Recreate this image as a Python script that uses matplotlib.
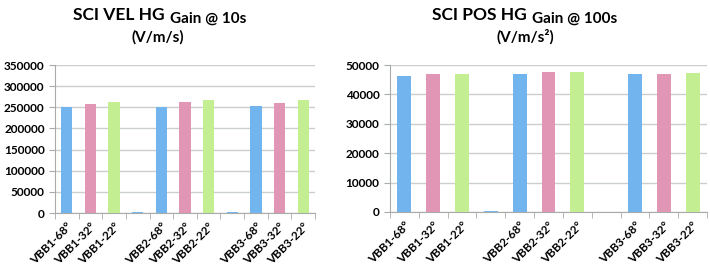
import matplotlib.pyplot as plt

plt.rcParams["font.family"] = ["Lato", "DejaVu Sans"]

labels = ["VBB1-68°", "VBB1-32°", "VBB1-22°", "",
          "VBB2-68°", "VBB2-32°", "VBB2-22°", "",
          "VBB3-68°", "VBB3-32°", "VBB3-22°"]
vel_gain = [251000, 257000, 262000, 3000,
            251000, 262000, 268000, 3000,
            253000, 259000, 268000]
pos_gain = [46200, 46800, 46800, 300,
            47000, 47500, 47500, 0,
            47000, 47000, 47200]
bar_colors = ["#72b4ee", "#e296b6", "#c3ef92", "#72b4ee",
              "#72b4ee", "#e296b6", "#c3ef92", "#72b4ee",
              "#72b4ee", "#e296b6", "#c3ef92"]

GRID = "#c9cfc9"
AXIS = "#a8aca8"


# draw one excel-style bar panel.
def draw_panel(ax, values, ymax, step):
    x = list(range(len(values)))
    ax.bar(x, values, width=0.48, color=bar_colors, zorder=3)
    ax.set_xlim(-0.5, len(values) - 0.5)
    ax.set_ylim(0, ymax)
    ax.set_yticks(range(0, ymax + 1, step))
    ax.yaxis.grid(True, color=GRID, linewidth=1.0, zorder=0)
    ax.set_xticks(x)
    ax.set_xticklabels(labels, rotation=45, ha="right", rotation_mode="anchor",
                       fontsize=8.5, fontweight="bold")
    ax.set_xticks([i - 0.5 for i in range(len(values) + 1)], minor=True)
    ax.tick_params(axis="x", which="major", length=0, pad=6)
    ax.tick_params(axis="x", which="minor", length=4, color=AXIS, direction="out")
    ax.tick_params(axis="y", length=4, color=AXIS, labelsize=8.5)
    for lab in ax.get_yticklabels():
        lab.set_fontweight("bold")
    for side in ["top", "right"]:
        ax.spines[side].set_visible(False)
    for side in ["left", "bottom"]:
        ax.spines[side].set_color(AXIS)


# two-size title line plus a units line underneath.
def draw_title(fig, ax, x_start, x_units, big, small, units):
    head = fig.text(x_start / 710, 1 - 20 / 268, big, fontsize=12.5,
                    fontweight="bold", va="baseline", ha="left")
    ax.annotate(small, xy=(1, 0), xycoords=head, xytext=(4, 0),
                textcoords="offset points", fontsize=11, fontweight="bold",
                va="baseline", ha="left", annotation_clip=False)
    fig.text(x_units / 710, 1 - 37 / 268, units, fontsize=11, fontweight="bold",
             va="center", ha="center")


fig = plt.figure(figsize=(7.1, 2.68), dpi=100)
ax1 = fig.add_axes([55 / 710, 55 / 268, 260 / 710, 148 / 268])
ax2 = fig.add_axes([390 / 710, 56 / 268, 317 / 710, 147 / 268])

draw_panel(ax1, vel_gain, 350000, 50000)
draw_panel(ax2, pos_gain, 50000, 10000)

draw_title(fig, ax1, 73, 158, "SCI VEL HG", "Gain @ 10s", "(V/m/s)")
draw_title(fig, ax2, 432, 525, "SCI POS HG", "Gain @ 100s", "(V/m/s²)")

fig.savefig("out.png", dpi=100)
